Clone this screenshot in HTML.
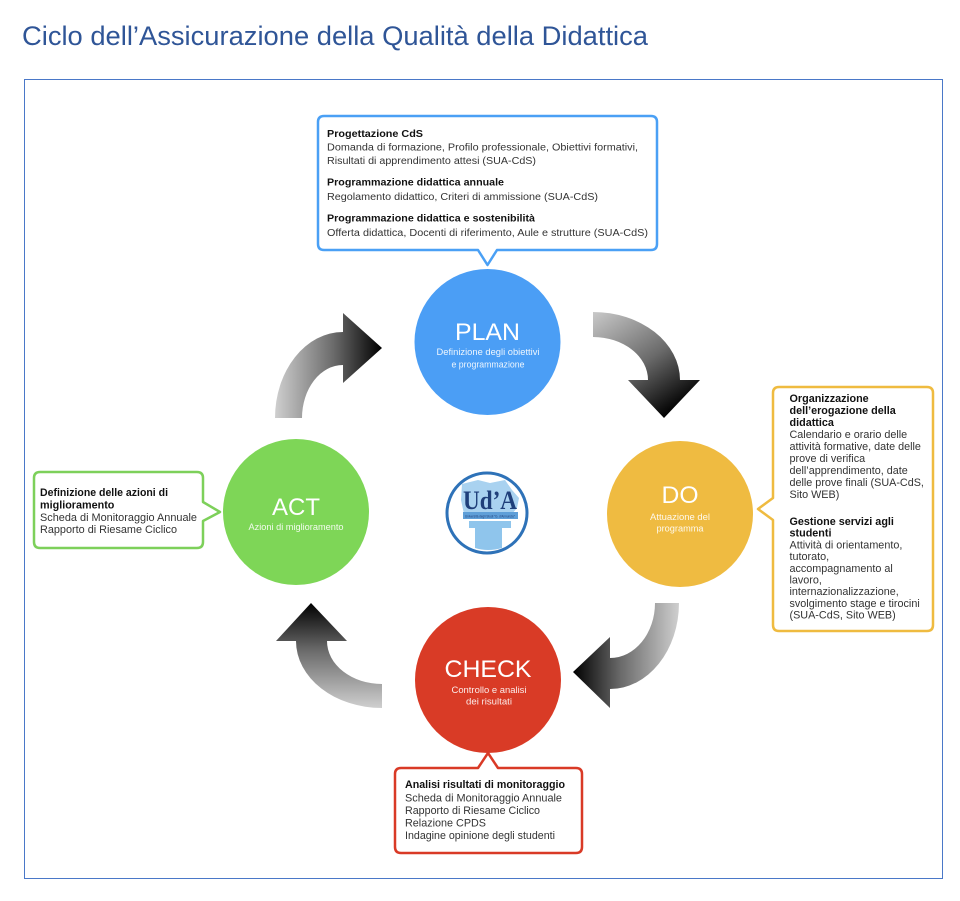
<!DOCTYPE html>
<html>
<head>
<meta charset="utf-8">
<style>
  html, body { margin: 0; padding: 0; background: #ffffff; }
  body { width: 960px; height: 901px; overflow: hidden; }
  svg { display: block; }
  .t { font-family: "Liberation Sans", Arial, sans-serif; }
</style>
</head>
<body>
<svg width="960" height="901" viewBox="0 0 960 901" xmlns="http://www.w3.org/2000/svg">
  <defs>
    <linearGradient id="g1" gradientUnits="userSpaceOnUse" x1="593" y1="312" x2="664" y2="418">
      <stop offset="0" stop-color="#c9c9c9"/>
      <stop offset="0.55" stop-color="#6a6a6a"/>
      <stop offset="1" stop-color="#000000"/>
    </linearGradient>
    <linearGradient id="g2" gradientUnits="userSpaceOnUse" x1="275" y1="0" x2="382" y2="0">
      <stop offset="0" stop-color="#cfcfcf"/>
      <stop offset="0.55" stop-color="#6a6a6a"/>
      <stop offset="1" stop-color="#000000"/>
    </linearGradient>
    <linearGradient id="g3" gradientUnits="userSpaceOnUse" x1="679" y1="0" x2="573" y2="0">
      <stop offset="0" stop-color="#cfcfcf"/>
      <stop offset="0.55" stop-color="#6a6a6a"/>
      <stop offset="1" stop-color="#000000"/>
    </linearGradient>
    <linearGradient id="g4" gradientUnits="userSpaceOnUse" x1="0" y1="708" x2="0" y2="603">
      <stop offset="0" stop-color="#cfcfcf"/>
      <stop offset="0.55" stop-color="#6a6a6a"/>
      <stop offset="1" stop-color="#000000"/>
    </linearGradient>
  </defs>

  <!-- Title -->
  <text class="t" x="22" y="45" font-size="27" fill="#2f5597" textLength="626" lengthAdjust="spacingAndGlyphs" style="font-weight:300">Ciclo dell’Assicurazione della Qualità della Didattica</text>

  <!-- Frame -->
  <rect x="24.5" y="79.5" width="918" height="799" fill="none" stroke="#4a78c8" stroke-width="1"/>

  <!-- Arrows -->
  <path d="M 593 312 A 87 68 0 0 1 680 380 L 700 380 L 664 418 L 628 380 L 648 380 A 55 43 0 0 0 593 337 Z" fill="url(#g1)"/>
  <path d="M 275 418 A 68 86 0 0 1 343 332 L 343 313 L 382 348 L 343 383 L 343 365 A 41 53 0 0 0 302 418 Z" fill="url(#g2)"/>
  <path d="M 679 603 A 69 86 0 0 1 610 689 L 610 708 L 573 672 L 610 637 L 610 658 A 45 55 0 0 0 655 603 Z" fill="url(#g3)"/>
  <path d="M 382 708 A 86 67 0 0 1 296 641 L 276 641 L 311 603 L 347 641 L 327 641 A 55 43 0 0 0 382 684 Z" fill="url(#g4)"/>

  <!-- Circles -->
  <circle cx="487.5" cy="342" r="73" fill="#4b9ef5"/>
  <circle cx="680" cy="514" r="73" fill="#efbb41"/>
  <circle cx="296" cy="512" r="73" fill="#7ed657"/>
  <circle cx="488" cy="680" r="73" fill="#d93b26"/>

  <!-- Circle labels -->
  <g class="t" fill="#ffffff" text-anchor="middle">
    <text x="487.5" y="340" font-size="24" textLength="65" lengthAdjust="spacingAndGlyphs">PLAN</text>
    <text x="488" y="355" font-size="9" fill-opacity="0.9" textLength="103" lengthAdjust="spacingAndGlyphs">Definizione degli obiettivi</text>
    <text x="488" y="367.5" font-size="9" fill-opacity="0.9" textLength="73" lengthAdjust="spacingAndGlyphs">e programmazione</text>

    <text x="680" y="503" font-size="24" textLength="37" lengthAdjust="spacingAndGlyphs">DO</text>
    <text x="680" y="520" font-size="9" fill-opacity="0.9" textLength="60" lengthAdjust="spacingAndGlyphs">Attuazione del</text>
    <text x="680" y="531.5" font-size="9" fill-opacity="0.9" textLength="47" lengthAdjust="spacingAndGlyphs">programma</text>

    <text x="296" y="515" font-size="24" textLength="48" lengthAdjust="spacingAndGlyphs">ACT</text>
    <text x="296" y="530" font-size="9" fill-opacity="0.9" textLength="95" lengthAdjust="spacingAndGlyphs">Azioni di miglioramento</text>

    <text x="488" y="677" font-size="24" textLength="87" lengthAdjust="spacingAndGlyphs">CHECK</text>
    <text x="489" y="693" font-size="9" fill-opacity="0.9" textLength="75" lengthAdjust="spacingAndGlyphs">Controllo e analisi</text>
    <text x="489" y="704.5" font-size="9" fill-opacity="0.9" textLength="46" lengthAdjust="spacingAndGlyphs">dei risultati</text>
  </g>

  <!-- Callouts -->
  <path d="M 324 116 H 651 Q 657 116 657 122 V 244 Q 657 250 651 250 H 497 L 487.5 265 L 478 250 H 324 Q 318 250 318 244 V 122 Q 318 116 324 116 Z" fill="#ffffff" stroke="#4aa0f5" stroke-width="2.5" stroke-linejoin="round"/>
  <path d="M 779 387 H 927 Q 933 387 933 393 V 625 Q 933 631 927 631 H 779 Q 773 631 773 625 V 520 L 758 509 L 773 498 V 393 Q 773 387 779 387 Z" fill="#ffffff" stroke="#efbb40" stroke-width="2.5" stroke-linejoin="round"/>
  <path d="M 40 472 H 197 Q 203 472 203 478 V 502 L 220 512 L 203 521 V 542 Q 203 548 197 548 H 40 Q 34 548 34 542 V 478 Q 34 472 40 472 Z" fill="#ffffff" stroke="#7dd05a" stroke-width="2.5" stroke-linejoin="round"/>
  <path d="M 401 768 H 478 L 488 753 L 498 768 H 576 Q 582 768 582 774 V 847 Q 582 853 576 853 H 401 Q 395 853 395 847 V 774 Q 395 768 401 768 Z" fill="#ffffff" stroke="#d93a26" stroke-width="2.5" stroke-linejoin="round"/>

  <!-- Top callout text -->
  <g class="t" fill="#333333" font-size="10">
    <text x="327" y="137" font-weight="bold" fill="#111" textLength="96" lengthAdjust="spacingAndGlyphs">Progettazione CdS</text>
    <text x="327" y="150.5" textLength="311" lengthAdjust="spacingAndGlyphs">Domanda di formazione, Profilo professionale, Obiettivi formativi,</text>
    <text x="327" y="164" textLength="209" lengthAdjust="spacingAndGlyphs">Risultati di apprendimento attesi (SUA-CdS)</text>
    <text x="327" y="185.5" font-weight="bold" fill="#111" textLength="177" lengthAdjust="spacingAndGlyphs">Programmazione didattica annuale</text>
    <text x="327" y="200" textLength="271" lengthAdjust="spacingAndGlyphs">Regolamento didattico, Criteri di ammissione (SUA-CdS)</text>
    <text x="327" y="221.5" font-weight="bold" fill="#111" textLength="208" lengthAdjust="spacingAndGlyphs">Programmazione didattica e sostenibilità</text>
    <text x="327" y="236" textLength="321" lengthAdjust="spacingAndGlyphs">Offerta didattica, Docenti di riferimento, Aule e strutture (SUA-CdS)</text>
  </g>

  <!-- Right callout text -->
  <g class="t" fill="#333333" font-size="10.8">
    <text x="789.5" y="402" font-weight="bold" fill="#111">Organizzazione</text>
    <text x="789.5" y="414" font-weight="bold" fill="#111">dell’erogazione della</text>
    <text x="789.5" y="426" font-weight="bold" fill="#111">didattica</text>
    <text x="789.5" y="438">Calendario e orario delle</text>
    <text x="789.5" y="450">attività formative, date delle</text>
    <text x="789.5" y="462">prove di verifica</text>
    <text x="789.5" y="474">dell’apprendimento, date</text>
    <text x="789.5" y="486">delle prove finali (SUA-CdS,</text>
    <text x="789.5" y="498">Sito WEB)</text>

    <text x="789.5" y="525" font-weight="bold" fill="#111">Gestione servizi agli</text>
    <text x="789.5" y="536.7" font-weight="bold" fill="#111">studenti</text>
    <text x="789.5" y="548.4">Attività di orientamento,</text>
    <text x="789.5" y="560.1">tutorato,</text>
    <text x="789.5" y="571.8">accompagnamento al</text>
    <text x="789.5" y="583.5">lavoro,</text>
    <text x="789.5" y="595.2">internazionalizzazione,</text>
    <text x="789.5" y="606.9">svolgimento stage e tirocini</text>
    <text x="789.5" y="618.6">(SUA-CdS, Sito WEB)</text>
  </g>

  <!-- Left callout text -->
  <g class="t" fill="#333333" font-size="10.8">
    <text x="40" y="496" font-weight="bold" fill="#111" textLength="128" lengthAdjust="spacingAndGlyphs">Definizione delle azioni di</text>
    <text x="40" y="508.5" font-weight="bold" fill="#111">miglioramento</text>
    <text x="40" y="521" textLength="157" lengthAdjust="spacingAndGlyphs">Scheda di Monitoraggio Annuale</text>
    <text x="40" y="533" textLength="137" lengthAdjust="spacingAndGlyphs">Rapporto di Riesame Ciclico</text>
  </g>

  <!-- Bottom callout text -->
  <g class="t" fill="#333333" font-size="10.8">
    <text x="405" y="788" font-weight="bold" fill="#111" textLength="160" lengthAdjust="spacingAndGlyphs">Analisi risultati di monitoraggio</text>
    <text x="405" y="801.5" textLength="157" lengthAdjust="spacingAndGlyphs">Scheda di Monitoraggio Annuale</text>
    <text x="405" y="814" textLength="135" lengthAdjust="spacingAndGlyphs">Rapporto di Riesame Ciclico</text>
    <text x="405" y="826.5">Relazione CPDS</text>
    <text x="405" y="839" textLength="150" lengthAdjust="spacingAndGlyphs">Indagine opinione degli studenti</text>
  </g>

  <!-- Logo -->
  <g>
    <circle cx="487" cy="513" r="40" fill="#ffffff" stroke="#2e72b8" stroke-width="3"/>
    <path d="M 462 484 L 478 480 L 490 483 L 505 480 L 512 490 L 519 498 L 517 508 L 512 514 L 464 514 L 461 500 Z" fill="#a9d2f0"/>
    <rect x="463" y="512" width="55" height="7" fill="#5f9fd8"/>
    <text class="t" x="490" y="517.5" font-size="3.2" fill="#1f3f7a" text-anchor="middle" textLength="50" lengthAdjust="spacingAndGlyphs">Università degli Studi &quot;G. d'Annunzio&quot;</text>
    <rect x="469" y="521" width="42" height="7" fill="#8fc5ec"/>
    <path d="M 475 528 H 502 V 548 Q 488 552 475 548 Z" fill="#8fc5ec"/>
    <text x="490" y="509" font-family="Liberation Serif, serif" font-weight="bold" font-size="26" fill="#1f3f7a" text-anchor="middle" textLength="54" lengthAdjust="spacingAndGlyphs">Ud’A</text>
  </g>
</svg>
</body>
</html>
